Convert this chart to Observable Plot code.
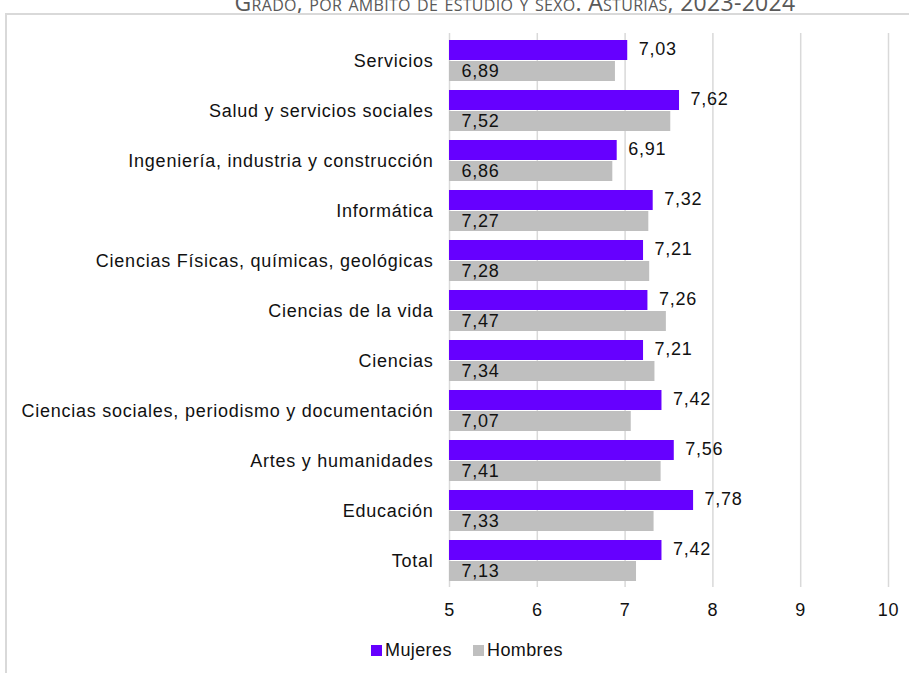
<!DOCTYPE html>
<html>
<head>
<meta charset="utf-8">
<script src="https://cdn.jsdelivr.net/npm/d3@7"></script>
<script src="https://cdn.jsdelivr.net/npm/@observablehq/plot@0.6"></script>
<style>
  html, body { margin: 0; padding: 0; background: #fff; width: 909px; height: 673px; overflow: hidden; position: relative; }
  #title { position: absolute; left: 0; width: 1030px; top: -14px; text-align: center; font-family: "Open Sans", sans-serif; font-variant: small-caps; font-size: 23px; color: #595959; white-space: nowrap; letter-spacing: 0.3px; }
  #frame { position: absolute; left: 5px; top: 13px; width: 1200px; height: 1000px; border: 2px solid #d9d9d9; box-sizing: border-box; }
  #chart { position: absolute; left: 0; top: 0; }
  #legend { position: absolute; top: 640px; left: 0; width: 909px; font-family: "Liberation Sans", Arial, sans-serif; font-size: 18px; letter-spacing: 0.4px; color: #111; }
  .item { position: absolute; display: flex; align-items: center; }
  .sw { width: 11px; height: 11px; margin-right: 3px; }
  #chart svg text { letter-spacing: 0.75px; }
</style>
</head>
<body>
<div id="title">Grado, por ámbito de estudio y sexo. Asturias, 2023-2024</div>
<div id="frame"></div>
<div id="chart"></div>
<div id="legend">
  <div class="item" style="left:371px"><div class="sw" style="background:#6600ff"></div>Mujeres</div>
  <div class="item" style="left:473px"><div class="sw" style="background:#bfbfbf"></div>Hombres</div>
</div>
<script>
const categories = [
  "Servicios",
  "Salud y servicios sociales",
  "Ingeniería, industria y construcción",
  "Informática",
  "Ciencias Físicas, químicas, geológicas",
  "Ciencias de la vida",
  "Ciencias",
  "Ciencias sociales, periodismo y documentación",
  "Artes y humanidades",
  "Educación",
  "Total"
];
const mujeres = [7.03, 7.62, 6.91, 7.32, 7.21, 7.26, 7.21, 7.42, 7.56, 7.78, 7.42];
const hombres = [6.89, 7.52, 6.86, 7.27, 7.28, 7.47, 7.34, 7.07, 7.41, 7.33, 7.13];
const xTicks = [5, 6, 7, 8, 9, 10];

const purple = "#6600ff";
const grey = "#bfbfbf";
const fmt = d => d.toFixed(2).replace(".", ",");

const dataM = categories.map((c, i) => ({cat: c, v: mujeres[i]}));
const dataH = categories.map((c, i) => ({cat: c, v: hombres[i]}));

const chart = Plot.plot({
  width: 909,
  height: 625,
  marginLeft: 449,
  marginRight: 21,
  marginTop: 33,
  marginBottom: 38,
  style: {fontFamily: "'Liberation Sans', Arial, sans-serif", fontSize: "18px", color: "#111", background: "transparent"},
  x: {domain: [5, 10], ticks: xTicks, tickFormat: d => String(d), label: null},
  y: {domain: categories, paddingInner: 0.185, paddingOuter: 0.1, label: null},
  marks: [
    Plot.gridX(xTicks, {stroke: "#d9d9d9", strokeOpacity: 1, strokeWidth: 1.5}),
    Plot.barX(dataM, {x1: 5, x2: "v", y: "cat", fill: purple, insetBottom: 21}),
    Plot.barX(dataH, {x1: 5, x2: "v", y: "cat", fill: grey, insetTop: 21}),
    Plot.text(dataM, {x: "v", y: "cat", text: d => fmt(d.v), dx: 11, dy: -12, textAnchor: "start", fontSize: 18, fill: "#111"}),
    Plot.text(dataH, {x: 5, y: "cat", text: d => fmt(d.v), dx: 12, dy: 10, textAnchor: "start", fontSize: 18, fill: "#111"}),
    Plot.axisX(xTicks, {tickSize: 0, tickPadding: 16, fontSize: 18, fill: "#111", label: null}),
    Plot.axisY({tickSize: 0, tickPadding: 16, fontSize: 18, fill: "#111", label: null})
  ]
});
document.getElementById("chart").appendChild(chart);
</script>
</body>
</html>
